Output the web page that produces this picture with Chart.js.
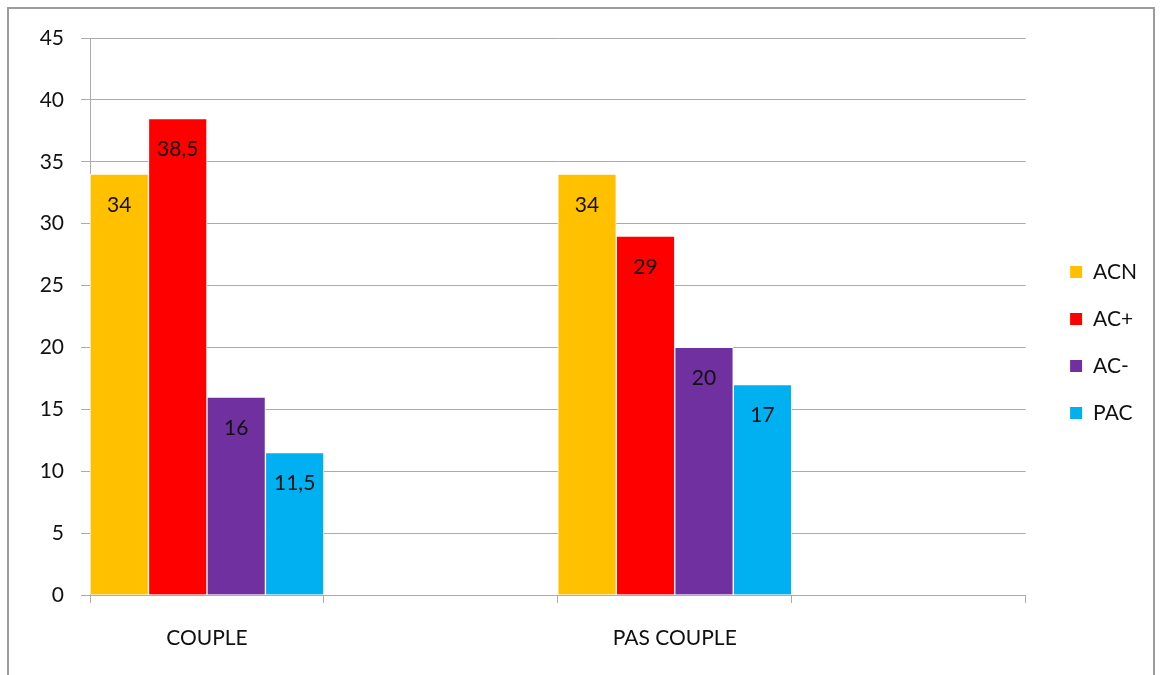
<!DOCTYPE html>
<html lang="fr">
<head>
    <meta charset="UTF-8">
    <title>ACN / AC+ / AC- / PAC</title>
    <script src="https://cdn.jsdelivr.net/npm/chart.js"></script>
    <style>
        html, body { margin: 0; padding: 0; background: #fff; overflow: hidden; }
        .chart-container { position: relative; width: 1162px; height: 675px; }
    </style>
</head>
<body>
    <div class="chart-container">
        <canvas id="coupleChart"></canvas>
    </div>

    <script>
        // two real groups, two empty slots to keep the spacing
        const categories = ['COUPLE', '', 'PAS COUPLE', ''];
        const seriesNames = ['ACN', 'AC+', 'AC-', 'PAC'];
        const acn = [34, null, 34, null];
        const acPlus = [38.5, null, 29, null];
        const acMinus = [16, null, 20, null];
        const pac = [11.5, null, 17, null];
        const yTicks = [0, 5, 10, 15, 20, 25, 30, 35, 40, 45];

        const colors = ['#FFC000', '#FF0000', '#7030A0', '#00B0F0'];
        const fontFamily = 'Lato, "Open Sans", "Liberation Sans", sans-serif';
        const fontSize = 21;
        const gridColor = '#ababab';
        const legendPad = 26;

        // value written inside the top of each bar, french decimal comma
        const barValues = {
            id: 'barValues',
            afterDatasetsDraw(chart) {
                const ctx = chart.ctx;
                ctx.save();
                ctx.font = fontSize + 'px ' + fontFamily;
                ctx.fillStyle = '#111';
                ctx.textAlign = 'center';
                ctx.textBaseline = 'middle';
                chart.data.datasets.forEach((ds, i) => {
                    const meta = chart.getDatasetMeta(i);
                    meta.data.forEach((bar, j) => {
                        const v = ds.data[j];
                        if (v === null) return;
                        ctx.fillText(String(v).replace('.', ','), bar.x, bar.y + 31);
                    });
                });
                ctx.restore();
            }
        };

        // push the legend a bit away from the plot and centre it on the plot
        const legendShift = {
            id: 'legendShift',
            afterLayout(chart) {
                const lg = chart.legend;
                const area = chart.chartArea;
                const dx = area.right + 44 - (lg.left + legendPad);
                const dy = (area.top + area.bottom) / 2 + 26 - (lg.top + lg.bottom) / 2;
                lg.left += dx; lg.right += dx;
                lg.top += dy; lg.bottom += dy;
            }
        };

        // thin gray frame round the whole chart
        const frame = {
            id: 'frame',
            beforeDraw(chart) {
                const ctx = chart.ctx;
                ctx.save();
                ctx.strokeStyle = '#9c9c9c';
                ctx.lineWidth = 2;
                ctx.strokeRect(8, 8, chart.width - 16, chart.height + 20);
                ctx.restore();
            }
        };

        const ctx = document.getElementById('coupleChart').getContext('2d');
        const coupleChart = new Chart(ctx, {
            type: 'bar',
            data: {
                labels: categories,
                datasets: [acn, acPlus, acMinus, pac].map((values, i) => ({
                    label: seriesNames[i],
                    data: values,
                    backgroundColor: colors[i],
                    borderColor: '#ffffff',
                    borderWidth: 1,
                    categoryPercentage: 1,
                    barPercentage: 1
                }))
            },
            options: {
                responsive: true,
                maintainAspectRatio: false,
                animation: false,
                layout: {
                    padding: { top: 38, right: 33, bottom: 0, left: 0 }
                },
                plugins: {
                    legend: {
                        position: 'right',
                        align: 'center',
                        labels: {
                            boxWidth: 13,
                            boxHeight: 13,
                            padding: legendPad,
                            color: '#111',
                            font: { family: fontFamily, size: fontSize }
                        }
                    },
                    tooltip: { enabled: false }
                },
                scales: {
                    x: {
                        grid: {
                            offset: true,
                            drawOnChartArea: false,
                            drawTicks: true,
                            tickLength: 8,
                            color: gridColor
                        },
                        border: { color: gridColor, width: 1 },
                        ticks: {
                            color: '#111',
                            padding: 23,
                            font: { family: fontFamily, size: fontSize }
                        },
                        afterFit(scale) { scale.height = 80; }
                    },
                    y: {
                        min: 0,
                        max: 45,
                        afterBuildTicks(scale) {
                            scale.ticks = yTicks.map(v => ({ value: v }));
                        },
                        grid: {
                            color: gridColor,
                            drawTicks: true,
                            tickLength: 9
                        },
                        border: { color: gridColor, width: 1 },
                        ticks: {
                            color: '#111',
                            padding: 17,
                            font: { family: fontFamily, size: fontSize }
                        },
                        afterFit(scale) { scale.width = 90; }
                    }
                }
            },
            plugins: [frame, legendShift, barValues]
        });
    </script>
</body>
</html>
